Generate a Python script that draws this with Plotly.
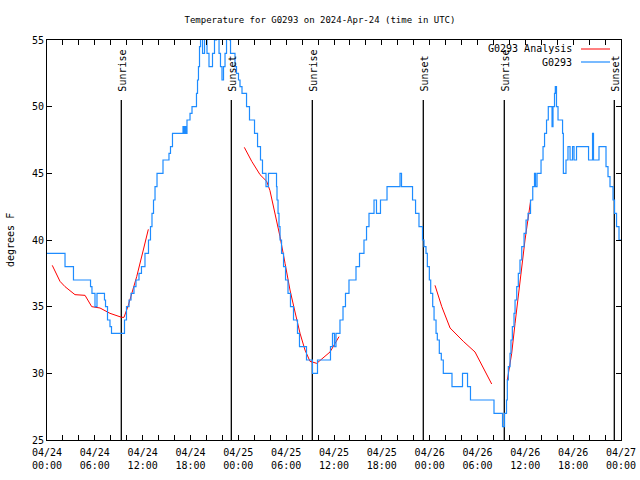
import plotly.graph_objects as go

# ---------------- data ----------------
# hours since 2024-04-24 00:00 UTC
obs_hours = [0.00, 2.26, 3.32, 5.46, 5.64, 6.02, 6.27, 7.21, 7.34, 7.59, 7.90, 8.09,
             9.72, 9.97, 10.29, 10.54, 10.91, 11.16, 11.54, 11.85, 12.29, 12.73, 12.98,
             13.17, 13.36, 13.55, 13.80, 14.55, 15.30, 15.49, 15.74, 17.06, 17.19, 17.31,
             17.44, 17.56, 17.94, 18.19, 18.75, 18.88, 19.00, 19.13, 19.26, 19.51, 19.76,
             20.07, 20.32, 20.76, 21.01, 21.26, 21.58, 21.76, 21.95, 22.14, 22.33, 22.52,
             22.89, 23.02, 23.58, 23.77, 24.02, 24.21, 24.46, 25.03, 25.40, 26.03, 26.41,
             26.78, 27.03, 27.47, 27.78, 28.79, 28.85, 28.98, 29.10, 29.23, 29.42, 29.67,
             29.92, 30.23, 30.54, 30.92, 31.42, 31.67, 32.55, 33.30, 33.93, 35.56, 35.81,
             36.06, 36.25, 36.75, 37.13, 37.44, 37.88, 38.76, 39.20, 39.76, 40.08, 40.39,
             41.02, 41.33, 41.83, 42.65, 44.28, 44.47, 45.85, 46.23, 46.66, 47.10, 47.29,
             47.54, 47.71, 47.96, 48.13, 48.38, 48.55, 48.80, 48.96, 49.21, 49.46, 49.71,
             50.80, 52.12, 52.75, 53.12, 56.07, 57.14, 57.39, 57.64, 57.74, 57.87, 58.08,
             58.20, 58.37, 58.58, 58.71, 58.92, 59.12, 59.33, 59.55, 59.84, 60.09, 60.34,
             60.65, 60.93, 61.15, 61.28, 61.47, 61.97, 62.22, 62.41, 62.66, 62.88, 63.35,
             63.47, 63.66, 63.76, 63.91, 64.10, 64.67, 64.77, 65.10, 65.35, 65.61, 65.92,
             66.11, 66.42, 67.93, 68.43, 68.55, 69.24, 70.12, 70.37, 70.62, 71.00, 71.19,
             71.44, 71.75, 72.00]
obs_temps = [39, 38, 37, 36.5, 36, 35, 36, 35.5, 35, 34, 33.5, 33,
             34, 35, 35.5, 36, 36.5, 37, 37.5, 38, 39, 40, 41,
             42, 43, 44, 45, 46, 46.5, 47, 48, 48.5, 48, 48.5,
             48, 49, 49.5, 50, 51, 52, 53, 54.5, 56, 54, 56,
             54, 53, 54, 55, 56, 54, 53, 52, 53, 54, 56,
             55, 54, 53, 52.5, 52, 51.5, 51, 50, 49, 48, 47,
             46, 45, 44, 45, 44, 43, 42, 41, 40, 39, 38,
             37, 36, 35, 34, 33, 32, 31, 30, 31, 32, 33,
             32, 33, 34, 35, 36, 37, 38, 39, 40, 41, 42,
             43, 42, 43, 44, 45, 44, 43, 42, 41, 40, 39.5,
             39, 38, 37, 36, 35, 34, 33, 32.5, 31.5, 31, 30,
             29, 30, 29, 28, 27, 26, 27, 28, 29.5, 30.5, 31.5,
             32.5, 33.5, 34.5, 35.5, 36.5, 37.5, 38.5, 39.5, 40.5, 41.5, 42,
             43, 44, 45, 44, 45, 46, 47, 48, 49, 50, 48.5,
             50, 51, 51.5, 50, 49, 48, 45, 46, 47, 46, 47,
             46, 47, 46, 48, 46, 47, 45.5, 44.75, 44, 43, 42,
             41, 40, 40]

analysis_hours = [0.66, 1.63, 2.26, 3.51, 4.77, 5.61, 6.65, 7.90, 9.37, 9.66, 10.20, 11.25, 12.08, 12.71, None,
                  24.75, 25.68, 26.72, 27.56, 27.97, 28.60, 29.23, 29.86, 30.48, 31.11, 31.74, 32.36, 32.99,
                  33.83, 34.46, 35.50, 36.63, None,
                  48.67, 49.52, 50.56, 51.19, 52.22, 53.69, 55.78, None,
                  57.74, 58.29, 58.71, 59.33, 59.96, 60.68]
analysis_temps = [38.1, 36.9, 36.5, 35.9, 35.85, 35.0, 34.9, 34.5, 34.2, 34.2, 35.1, 37.25, 39.25, 40.8, None,
                  46.95, 45.9, 44.9, 44.4, 43.7, 42.0, 40.25, 38.25, 36.25, 34.6, 33.0, 31.75, 30.9,
                  30.75, 31.05, 31.6, 32.75, None,
                  36.6, 35.0, 33.4, 33.0, 32.4, 31.6, 29.2, None,
                  29.5, 31.5, 33.75, 36.75, 40.0, 43.0]

sun_hours = [9.32, 23.12, 33.28, 47.20, 57.36, 71.16]
sun_labels = ["Sunrise", "Sunset", "Sunrise", "Sunset", "Sunrise", "Sunset"]

x_tick_hours = [0, 6, 12, 18, 24, 30, 36, 42, 48, 54, 60, 66, 72]
x_tick_labels = ["04/24<br>00:00", "04/24<br>06:00", "04/24<br>12:00", "04/24<br>18:00",
                 "04/25<br>00:00", "04/25<br>06:00", "04/25<br>12:00", "04/25<br>18:00",
                 "04/26<br>00:00", "04/26<br>06:00", "04/26<br>12:00", "04/26<br>18:00",
                 "04/27<br>00:00"]
y_ticks = [25, 30, 35, 40, 45, 50, 55]

series_names = ["G0293 Analysis", "G0293"]
series_colors = ["#ff0000", "#1e8cff"]

# ---------------- figure ----------------
FONT = "DejaVu Sans Mono"
Y_MIN, Y_MAX = 25, 55
SUN_TOP = 50.5

fig = go.Figure()

# sunrise / sunset lines
sx, sy = [], []
for h in sun_hours:
    sx += [h, h, None]
    sy += [Y_MIN, SUN_TOP, None]
fig.add_trace(go.Scatter(x=sx, y=sy, mode="lines", line=dict(color="black", width=1.3),
                         hoverinfo="skip", showlegend=False))

fig.add_trace(go.Scatter(x=analysis_hours, y=analysis_temps, mode="lines", name=series_names[0],
                         line=dict(color=series_colors[0], width=1), connectgaps=False))
fig.add_trace(go.Scatter(x=obs_hours, y=obs_temps, mode="lines", name=series_names[1],
                         line=dict(color=series_colors[1], width=1.2, shape="hv")))

# full tick set every 2 hours, labels every 6 hours
all_ticks = list(range(0, 73, 2))
all_text = [x_tick_labels[x_tick_hours.index(t)] if t in x_tick_hours else "" for t in all_ticks]

L, R, T, B = 47, 19, 40, 40
W, H = 640, 480
PW, PH = W - L - R, H - T - B

def px(xp):
    return (xp - L) / PW

def py(yp):
    return 1 - (yp - T) / PH

annotations = []
for h, lab in zip(sun_hours, sun_labels):
    annotations.append(dict(x=h, y=51.0, xref="x", yref="y", text=lab, textangle=-90,
                            showarrow=False, xanchor="center", yanchor="bottom", xshift=1,
                            font=dict(family=FONT, size=10, color="black")))

annotations.append(dict(x=px(10), y=0.5, xref="paper", yref="paper", text="degrees F",
                        textangle=-90, showarrow=False, xanchor="center", yanchor="middle",
                        font=dict(family=FONT, size=10, color="black")))

shapes = []
for i, (name, col) in enumerate(zip(series_names, series_colors)):
    ypix = 49 + 13 * i
    annotations.append(dict(x=px(574), y=py(ypix), xref="paper", yref="paper", text=name,
                            showarrow=False, xanchor="right", yanchor="middle",
                            font=dict(family=FONT, size=10, color="black")))
    shapes.append(dict(type="line", xref="paper", yref="paper", x0=px(581), x1=px(610),
                       y0=py(ypix), y1=py(ypix), line=dict(color=col, width=1.2 if i else 1)))

fig.update_layout(
    width=W, height=H,
    margin=dict(l=L, r=R, t=T, b=B, autoexpand=False),
    paper_bgcolor="white", plot_bgcolor="white",
    font=dict(family=FONT, size=10, color="black"),
    title=dict(text="Temperature for G0293 on 2024-Apr-24 (time in UTC)", x=0.5, xanchor="center",
               xref="container", y=1 - 20 / H, yanchor="middle",
               font=dict(family=FONT, size=9, color="black")),
    showlegend=False,
    xaxis=dict(range=[0, 72], tickmode="array", tickvals=all_ticks, ticktext=all_text,
               ticks="inside", ticklen=5, tickcolor="black", tickwidth=1,
               showline=True, linecolor="black", linewidth=1, mirror="allticks",
               showgrid=False, zeroline=False, automargin=False, ticklabelstandoff=3,
               tickfont=dict(family=FONT, size=10, color="black")),
    yaxis=dict(range=[Y_MIN, Y_MAX], tickmode="array", tickvals=y_ticks,
               ticks="inside", ticklen=5, tickcolor="black", tickwidth=1,
               showline=True, linecolor="black", linewidth=1, mirror="allticks",
               showgrid=False, zeroline=False, automargin=False,
               tickfont=dict(family=FONT, size=10, color="black")),
    annotations=annotations,
    shapes=shapes,
)

fig.write_html("out.html", config={"displayModeBar": False, "staticPlot": True},
               post_script="document.body.style.margin='0';document.body.style.padding='0';")
